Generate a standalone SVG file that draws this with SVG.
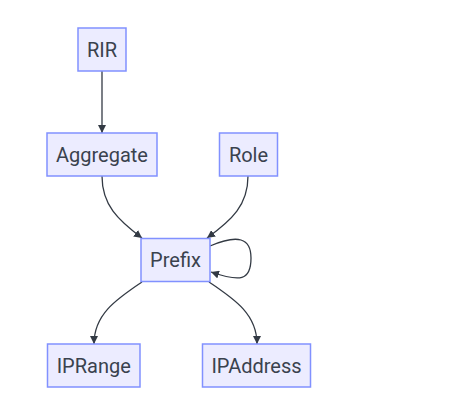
<svg xmlns="http://www.w3.org/2000/svg" width="460" height="403" viewBox="0 0 460 403">
<style>
.node rect{fill:#ECECFF;stroke:#8191FF;stroke-width:1.5}
.node text{font-family:Roboto,"Liberation Sans",sans-serif;font-size:20px;fill:#3a424e;text-anchor:middle}
.edges path{fill:none;stroke:#333a44;stroke-width:1.3}
</style>
<defs>
<marker id="arr" viewBox="0 0 10 10" refX="10" refY="5" markerWidth="8" markerHeight="8" markerUnits="userSpaceOnUse" orient="auto">
<path d="M0,0 L10,5 L0,10 z" fill="#333a44"/>
</marker>
</defs>
<rect width="460" height="403" fill="#ffffff"/>
<g class="edges">
<path d="M102,71 L102,133" marker-end="url(#arr)"/>
<path d="M102,176 C102,205 118,220 142,238" marker-end="url(#arr)"/>
<path d="M248,176 C248,205 232,220 207,238" marker-end="url(#arr)"/>
<path d="M142,282 C115,300 94,315 94,344" marker-end="url(#arr)"/>
<path d="M209,282 C236,300 257,315 257,344" marker-end="url(#arr)"/>
<path d="M210,246 C238,234 251,238 251,258 C251,281 240,282 211,272" marker-end="url(#arr)"/>
</g>
<g id="RIR" class="node"><rect x="78" y="28" width="48" height="43"/><text x="102" y="56.8">RIR</text></g>
<g id="Aggregate" class="node"><rect x="47" y="133" width="110" height="43"/><text x="102" y="161.8">Aggregate</text></g>
<g id="Role" class="node"><rect x="219.5" y="133" width="58" height="43"/><text x="248.5" y="161.8">Role</text></g>
<g id="Prefix" class="node"><rect x="141" y="238.5" width="69" height="43"/><text x="175.5" y="267.3">Prefix</text></g>
<g id="IPRange" class="node"><rect x="47.5" y="344" width="92.5" height="43"/><text x="93.75" y="372.8">IPRange</text></g>
<g id="IPAddress" class="node"><rect x="202.5" y="344" width="108" height="43"/><text x="256.5" y="372.8">IPAddress</text></g>
</svg>
